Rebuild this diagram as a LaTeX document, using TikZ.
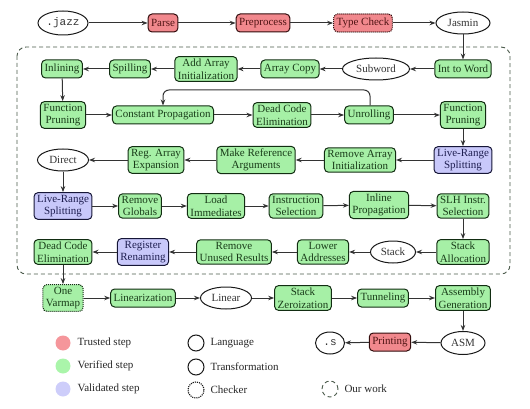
\documentclass[tikz,border=0pt]{standalone}
\usepackage{fontspec}
\setmainfont{Liberation Serif}
\setmonofont{Liberation Mono}
\usetikzlibrary{shapes.geometric,arrows.meta}
\definecolor{redfill}{RGB}{241,136,141}
\definecolor{greenfill}{RGB}{166,240,166}
\definecolor{bluefill}{RGB}{200,200,250}
\definecolor{redtext}{RGB}{80,20,20}
\definecolor{greentext}{RGB}{25,60,25}
\definecolor{bluetext}{RGB}{30,30,80}
\definecolor{redline}{RGB}{50,12,12}
\definecolor{greenline}{RGB}{18,45,18}
\definecolor{blueline}{RGB}{22,22,55}
\definecolor{boxline}{RGB}{75,90,75}
\definecolor{legred}{RGB}{245,150,155}
\definecolor{leggreen}{RGB}{170,245,170}
\definecolor{legblue}{RGB}{205,205,250}
\tikzset{
  every node/.style={font=\fontsize{11}{12.5}\selectfont},
  pass/.style={rectangle, rounded corners=4pt, line width=1pt, inner xsep=3pt, inner ysep=2.3pt, minimum height=18pt, align=center},
  trusted/.style={pass, fill=redfill, draw=redline, text=redtext},
  verified/.style={pass, fill=greenfill, draw=greenline, text=greentext},
  validated/.style={pass, fill=bluefill, draw=blueline, text=bluetext},
  checkerbox/.style={densely dotted, line width=1.1pt},
  lang/.style={ellipse, draw=black!90, line width=1pt, inner sep=0pt, minimum height=22pt, text=black!80},
  flow/.style={-{Stealth[length=6pt,width=4.5pt]}, line width=1pt, draw=black!80},
  legtext/.style={anchor=west, text=black!85},
}
\begin{document}
\begin{tikzpicture}[x=1pt,y=-1pt]
\useasboundingbox (0,0) rectangle (530,409);
% dashed box
\draw[boxline, dashed, dash pattern=on 4pt off 3pt, line width=0.9pt, rounded corners=9pt] (17,47) rectangle (510,274);
% row 0
\node[lang, minimum width=50pt, minimum height=24pt] (jazz) at (63,23) {\ttfamily .jazz};
\node[trusted] (parse) at (163,23) {Parse};
\node[trusted] (prep) at (263,23) {Preprocess};
\node[trusted, checkerbox] (tc) at (363,23) {Type Check};
\node[lang, minimum width=54pt] (jasmin) at (463,23) {Jasmin};
% row 1
\node[verified] (inl) at (62,69) {Inlining};
\node[verified] (spill) at (130,69) {Spilling};
\node[verified] (aai) at (206,69) {Add Array\\Initialization};
\node[verified] (acopy) at (290,69) {Array Copy};
\node[lang, minimum width=67pt] (subw) at (376,69) {Subword};
\node[verified] (itw) at (463,69) {Int to Word};
% row 2
\node[verified] (fp1) at (63,115) {Function\\Pruning};
\node[verified] (cp) at (163,115) {Constant Propagation};
\node[verified] (dce1) at (282,115) {Dead Code\\Elimination};
\node[verified] (unr) at (369,115) {Unrolling};
\node[verified] (fp2) at (463,115) {Function\\Pruning};
% row 3
\node[lang, minimum width=51pt] (direct) at (63,160) {Direct};
\node[verified] (rae) at (156,160) {Reg. Array\\Expansion};
\node[verified] (mra) at (256,160) {Make Reference\\Arguments};
\node[verified] (rai) at (360,160) {Remove Array\\Initialization};
\node[validated] (lrs2) at (463,160) {Live-Range\\Splitting};
% row 4
\node[validated] (lrs1) at (63,206) {Live-Range\\Splitting};
\node[verified] (rg) at (140,206) {Remove\\Globals};
\node[verified] (li) at (216,206) {Load\\Immediates};
\node[verified] (is) at (296,206) {Instruction\\Selection};
\node[verified] (ip) at (379,205) {Inline\\Propagation};
\node[verified] (slh) at (463,206) {SLH Instr.\\Selection};
% row 5
\node[verified] (dce2) at (63,252) {Dead Code\\Elimination};
\node[validated] (rr) at (143,252) {Register\\Renaming};
\node[verified] (rur) at (234,252) {Remove\\Unused Results};
\node[verified] (la) at (323,252) {Lower\\Addresses};
\node[lang, minimum width=45pt] (stack) at (393,252) {Stack};
\node[verified] (sa) at (463,252) {Stack\\Allocation};
% row 6
\node[verified, checkerbox] (ov) at (63,298) {One\\Varmap};
\node[verified] (lin) at (143,298) {Linearization};
\node[lang, minimum width=51pt] (linear) at (226,298) {Linear};
\node[verified] (sz) at (303,298) {Stack\\Zeroization};
\node[verified] (tun) at (383,298) {Tunneling};
\node[verified] (ag) at (463,298) {Assembly\\Generation};
% row 7
\node[lang, minimum width=44pt, minimum height=23pt] (asm) at (463,343) {ASM};
\node[trusted] (print) at (390,342) {Printing};
\node[lang, minimum width=29pt] (dots) at (330,343) {\ttfamily .s};
% connectors
\draw[flow] (jazz) -- (parse);
\draw[flow] (parse) -- (prep);
\draw[flow] (prep) -- (tc);
\draw[flow] (tc) -- (jasmin);
\draw[flow] (jasmin) -- (itw);
\draw[flow] (itw) -- (subw);
\draw[flow] (subw) -- (acopy);
\draw[flow] (acopy) -- (aai);
\draw[flow] (aai) -- (spill);
\draw[flow] (spill) -- (inl);
\draw[flow] (inl) -- (fp1);
\draw[flow] (fp1) -- (cp);
\draw[flow] (cp) -- (dce1);
\draw[flow] (dce1) -- (unr);
\draw[flow] (unr) -- (fp2);
\coordinate (loopR) at (370,90);
\coordinate (loopL) at (163,90);
\draw[flow, rounded corners=6pt] (unr.north -| loopR) -- (loopR) -- (loopL) -- (cp.north);
\draw[flow] (fp2) -- (lrs2);
\draw[flow] (lrs2) -- (rai);
\draw[flow] (rai) -- (mra);
\draw[flow] (mra) -- (rae);
\draw[flow] (rae) -- (direct);
\draw[flow] (direct) -- (lrs1);
\draw[flow] (lrs1) -- (rg);
\draw[flow] (rg) -- (li);
\draw[flow] (li) -- (is);
\draw[flow] (is) -- (ip);
\draw[flow] (ip) -- (slh);
\draw[flow] (slh) -- (sa);
\draw[flow] (sa) -- (stack);
\draw[flow] (stack) -- (la);
\draw[flow] (la) -- (rur);
\draw[flow] (rur) -- (rr);
\draw[flow] (rr) -- (dce2);
\draw[flow] (dce2) -- (ov);
\draw[flow] (ov) -- (lin);
\draw[flow] (lin) -- (linear);
\draw[flow] (linear) -- (sz);
\draw[flow] (sz) -- (tun);
\draw[flow] (tun) -- (ag);
\draw[flow] (ag) -- (asm);
\draw[flow] (asm) -- (print);
\draw[flow] (print) -- (dots);
% legend
\node[circle, fill=legred, minimum size=15pt, inner sep=0pt] (lr) at (63,343) {};
\node[legtext] (lrt) at (74,343) {Trusted step};
\node[circle, fill=leggreen, minimum size=15pt, inner sep=0pt] (lg) at (63,366) {};
\node[legtext] (lgt) at (74,366) {Verified step};
\node[circle, fill=legblue, minimum size=15pt, inner sep=0pt] (lb) at (63,389) {};
\node[legtext] (lbt) at (74,389) {Validated step};
\node[circle, draw=black!90, line width=1pt, minimum size=16pt, inner sep=0pt] (ll) at (196,343) {};
\node[legtext] (llt) at (207,343) {Language};
\node[circle, draw=black!90, line width=1pt, minimum size=16pt, inner sep=0pt] (lt) at (196,367) {};
\node[legtext] (ltt) at (207,367) {Transformation};
\node[circle, draw=black!90, densely dotted, line width=1.1pt, minimum size=16pt, inner sep=0pt] (lc) at (196,390) {};
\node[legtext] (lct) at (207,390) {Checker};
\node[circle, draw=boxline, dashed, dash pattern=on 4pt off 3pt, line width=0.9pt, minimum size=16pt, inner sep=0pt] (lo) at (330,389) {};
\node[legtext] (lot) at (341,389) {Our work};
\end{tikzpicture}
\end{document}
